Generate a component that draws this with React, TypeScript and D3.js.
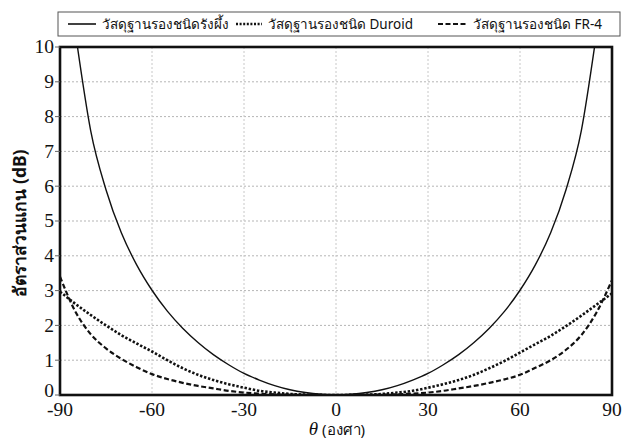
import React from "react";
import * as d3 from "d3";

const thetaDeg = [-90, -85, -80, -75, -70, -65, -60, -55, -50, -45, -40, -35, -30, -25, -20, -15, -10, -5, 0, 5, 10, 15, 20, 25, 30, 35, 40, 45, 50, 55, 60, 65, 70, 75, 80, 85, 90];

const honeycombTheta = [-84.3, -80, -75, -70, -65, -60, -55, -50, -45, -40, -35, -30, -25, -20, -15, -10, -5, 0, 5, 10, 15, 20, 25, 30, 35, 40, 45, 50, 55, 60, 65, 70, 75, 80, 84.3];
const honeycombDb = [10, 7.6, 5.9, 4.66, 3.74, 3.01, 2.41, 1.92, 1.51, 1.16, 0.87, 0.62, 0.43, 0.27, 0.15, 0.07, 0.02, 0, 0.02, 0.07, 0.15, 0.27, 0.43, 0.62, 0.87, 1.16, 1.51, 1.92, 2.41, 3.01, 3.74, 4.66, 5.9, 7.6, 10];

const duroidDb = [2.97, 2.62, 2.3, 2.0, 1.72, 1.48, 1.25, 1.0, 0.77, 0.58, 0.43, 0.31, 0.21, 0.12, 0.07, 0.03, 0.01, 0.003, 0, 0.003, 0.01, 0.03, 0.07, 0.12, 0.21, 0.31, 0.43, 0.58, 0.77, 0.98, 1.22, 1.46, 1.7, 1.98, 2.28, 2.6, 2.92];

const fr4Db = [3.4, 2.4, 1.75, 1.34, 1.04, 0.8, 0.6, 0.46, 0.35, 0.26, 0.19, 0.12, 0.07, 0.04, 0.02, 0.01, 0.005, 0, 0, 0, 0.005, 0.01, 0.02, 0.04, 0.07, 0.12, 0.19, 0.26, 0.35, 0.45, 0.58, 0.78, 1.0, 1.3, 1.72, 2.38, 3.3];

const xTicks = [-90, -60, -30, 0, 30, 60, 90];
const yTicks = [0, 1, 2, 3, 4, 5, 6, 7, 8, 9, 10];

const legendLabels = ["วัสดุฐานรองชนิดรังผึ้ง", "วัสดุฐานรองชนิด Duroid", "วัสดุฐานรองชนิด FR-4"];
const xTitle = "(องศา)";
const yTitle = "อัตราส่วนแกน (dB)";

const W = 625, H = 439;
const L = 60, R = 612, T = 47, B = 395;

const SERIF = "Liberation Serif";
const SANS = "Noto Sans";

export default function App() {
  const x = d3.scaleLinear().domain([-90, 90]).range([L, R]);
  const y = d3.scaleLinear().domain([0, 10]).range([B, T]);
  const line = d3.line<[number, number]>().x(d => x(d[0])).y(d => y(d[1])).curve(d3.curveMonotoneX);
  const solid = line(honeycombTheta.map((t, i) => [t, honeycombDb[i]]))!;
  const dotted = line(thetaDeg.map((t, i) => [t, duroidDb[i]]))!;
  const dashed = line(thetaDeg.map((t, i) => [t, fr4Db[i]]))!;
  return (
    <svg width={W} height={H} style={{ position: "absolute", left: 0, top: 0, background: "#fff" }}>
      <defs>
        <clipPath id="plot"><rect x={L} y={T} width={R - L} height={B - T} /></clipPath>
      </defs>
      {yTicks.filter(v => v > 0 && v < 10).map(v => (
        <line key={"gy" + v} x1={L} x2={R} y1={y(v)} y2={y(v)} stroke="#b5b5b5" strokeWidth={1} strokeDasharray="2,2" />
      ))}
      {xTicks.filter(v => v > -90 && v < 90).map(v => (
        <line key={"gx" + v} x1={x(v)} x2={x(v)} y1={T} y2={B} stroke="#c8c8c8" strokeWidth={1} strokeDasharray="2,2" />
      ))}
      <g clipPath="url(#plot)" fill="none" stroke="#111">
        <path d={solid} strokeWidth={1.4} />
        <path d={dotted} strokeWidth={2.6} strokeDasharray="2.4,1.8" />
        <path d={dashed} strokeWidth={2.2} strokeDasharray="5,2.6" />
      </g>
      <rect x={L} y={T} width={R - L} height={B - T} fill="none" stroke="#111" strokeWidth={2.6} />
      {yTicks.map(v => (
        <g key={"yt" + v}>
          <line x1={L - 5} x2={L} y1={y(v)} y2={y(v)} stroke="#666" strokeWidth={1} />
          <text x={L - 6} y={y(v) - (v === 0 ? 4 : 0)} dy="0.33em" textAnchor="end" fontFamily={SERIF} fontSize={19.5} fill="#111">{v}</text>
        </g>
      ))}
      {xTicks.map(v => (
        <text key={"xt" + v} x={x(v)} y={B + 21} textAnchor="middle" fontFamily={SERIF} fontSize={19.5} fill="#111">{v}</text>
      ))}
      <text x={(L + R) / 2 + 1} y={435} textAnchor="middle" fill="#111">
        <tspan fontFamily={SERIF} fontStyle="italic" fontSize={19}>θ</tspan>
        <tspan fontFamily={SANS} fontSize={15}> {xTitle}</tspan>
      </text>
      <text transform={`translate(26, ${(T + B) / 2 + 2}) rotate(-90)`} textAnchor="middle" fontFamily={SANS} fontWeight="bold" fontSize={17.5} fill="#111">{yTitle}</text>
      <rect x={58} y={12} width={562} height={24} fill="#fff" stroke="#555" strokeWidth={1} />
      <line x1={68} x2={96} y1={24} y2={24} stroke="#111" strokeWidth={1.6} />
      <text x={102} y={24} dy="0.35em" fontFamily={SANS} fontSize={13.5} fill="#111">{legendLabels[0]}</text>
      <line x1={236} x2={262} y1={24} y2={24} stroke="#111" strokeWidth={2.4} strokeDasharray="2,1.6" />
      <text x={268} y={24} dy="0.35em" fontFamily={SANS} fontSize={13.5} fill="#111">{legendLabels[1]}</text>
      <line x1={438} x2={467} y1={24} y2={24} stroke="#111" strokeWidth={2} strokeDasharray="5,2.5" />
      <text x={473} y={24} dy="0.35em" fontFamily={SANS} fontSize={13.5} fill="#111">{legendLabels[2]}</text>
    </svg>
  );
}
